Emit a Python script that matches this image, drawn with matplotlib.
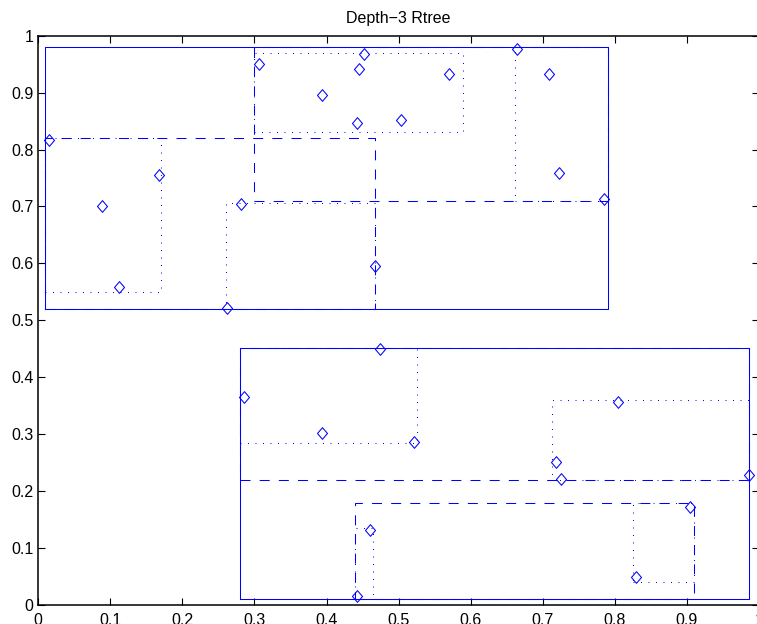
import matplotlib
matplotlib.use("Agg")
import matplotlib.pyplot as plt
from matplotlib.path import Path

plt.rcParams['font.family'] = ['Liberation Sans', 'DejaVu Sans']
plt.rcParams['lines.scale_dashes'] = False

# data points stored in the tree
pts_x = [0.015, 0.088, 0.167, 0.112, 0.282, 0.262, 0.306, 0.394, 0.445, 0.452,
         0.443, 0.503, 0.570, 0.467, 0.665, 0.709, 0.723, 0.785,
         0.286, 0.394, 0.474, 0.521, 0.461, 0.443, 0.805, 0.719, 0.725, 0.987,
         0.904, 0.830]
pts_y = [0.816, 0.701, 0.755, 0.558, 0.704, 0.521, 0.950, 0.895, 0.941, 0.968,
         0.847, 0.852, 0.933, 0.596, 0.977, 0.933, 0.759, 0.713,
         0.366, 0.302, 0.450, 0.286, 0.131, 0.015, 0.356, 0.251, 0.222, 0.228,
         0.172, 0.049]

# node bounding boxes per level: (xmin, xmax, ymin, ymax)
level1 = [(0.009, 0.791, 0.520, 0.980),
          (0.280, 0.9865, 0.010, 0.452)]
level2 = [(0.009, 0.467, 0.520, 0.820),
          (0.300, 0.791, 0.710, 0.980),
          (0.280, 0.9865, 0.220, 0.452),
          (0.440, 0.910, 0.010, 0.180)]
level3 = [(0.009, 0.170, 0.550, 0.820),
          (0.260, 0.467, 0.520, 0.706),
          (0.300, 0.590, 0.830, 0.970),
          (0.661, 0.791, 0.710, 0.980),
          (0.280, 0.525, 0.285, 0.452),
          (0.713, 0.9865, 0.220, 0.360),
          (0.440, 0.465, 0.010, 0.135),
          (0.826, 0.910, 0.040, 0.180)]

styles = [(level1, '-'),
          (level2, (0, (7.2, 6.6))),
          (level3, (0, (0.7, 4.7)))]

diamond = Path([(0, -1), (0.86, 0), (0, 1), (-0.86, 0), (0, -1)],
               [Path.MOVETO, Path.LINETO, Path.LINETO, Path.LINETO, Path.CLOSEPOLY])

fig = plt.figure(figsize=(7.57, 6.24), dpi=100)
ax = fig.add_axes([38.3 / 757, 19 / 624, 720.5 / 757, 569.3 / 624])

for boxes, ls in styles:
    for x0, x1, y0, y1 in boxes:
        ax.plot([x0, x1, x1, x0, x0], [y0, y0, y1, y1, y0],
                color='#0000ff', linestyle=ls, linewidth=0.75)

ax.plot(pts_x, pts_y, linestyle='none', marker=diamond, markersize=8.4,
        markerfacecolor='none', markeredgecolor='#0000ff', markeredgewidth=0.75)

ax.set_xlim(0, 1)
ax.set_ylim(0, 1)
ax.set_xticks([i / 10 for i in range(11)])
ax.set_yticks([i / 10 for i in range(11)])
ax.set_xticklabels(['0'] + ['%.1f' % (i / 10) for i in range(1, 10)] + ['1'])
ax.set_yticklabels(['0'] + ['%.1f' % (i / 10) for i in range(1, 10)] + ['1'])
ax.tick_params(direction='in', length=5, width=0.8, top=True, right=True,
               labelsize=11.5)
ax.tick_params(axis='y', pad=3.5)
ax.tick_params(axis='x', pad=5.5)
for sp in ax.spines.values():
    sp.set_linewidth(1.1)

ax.set_title('Depth\u22123 Rtree', fontsize=11.5, pad=9)

fig.savefig('out.png', dpi=100)
